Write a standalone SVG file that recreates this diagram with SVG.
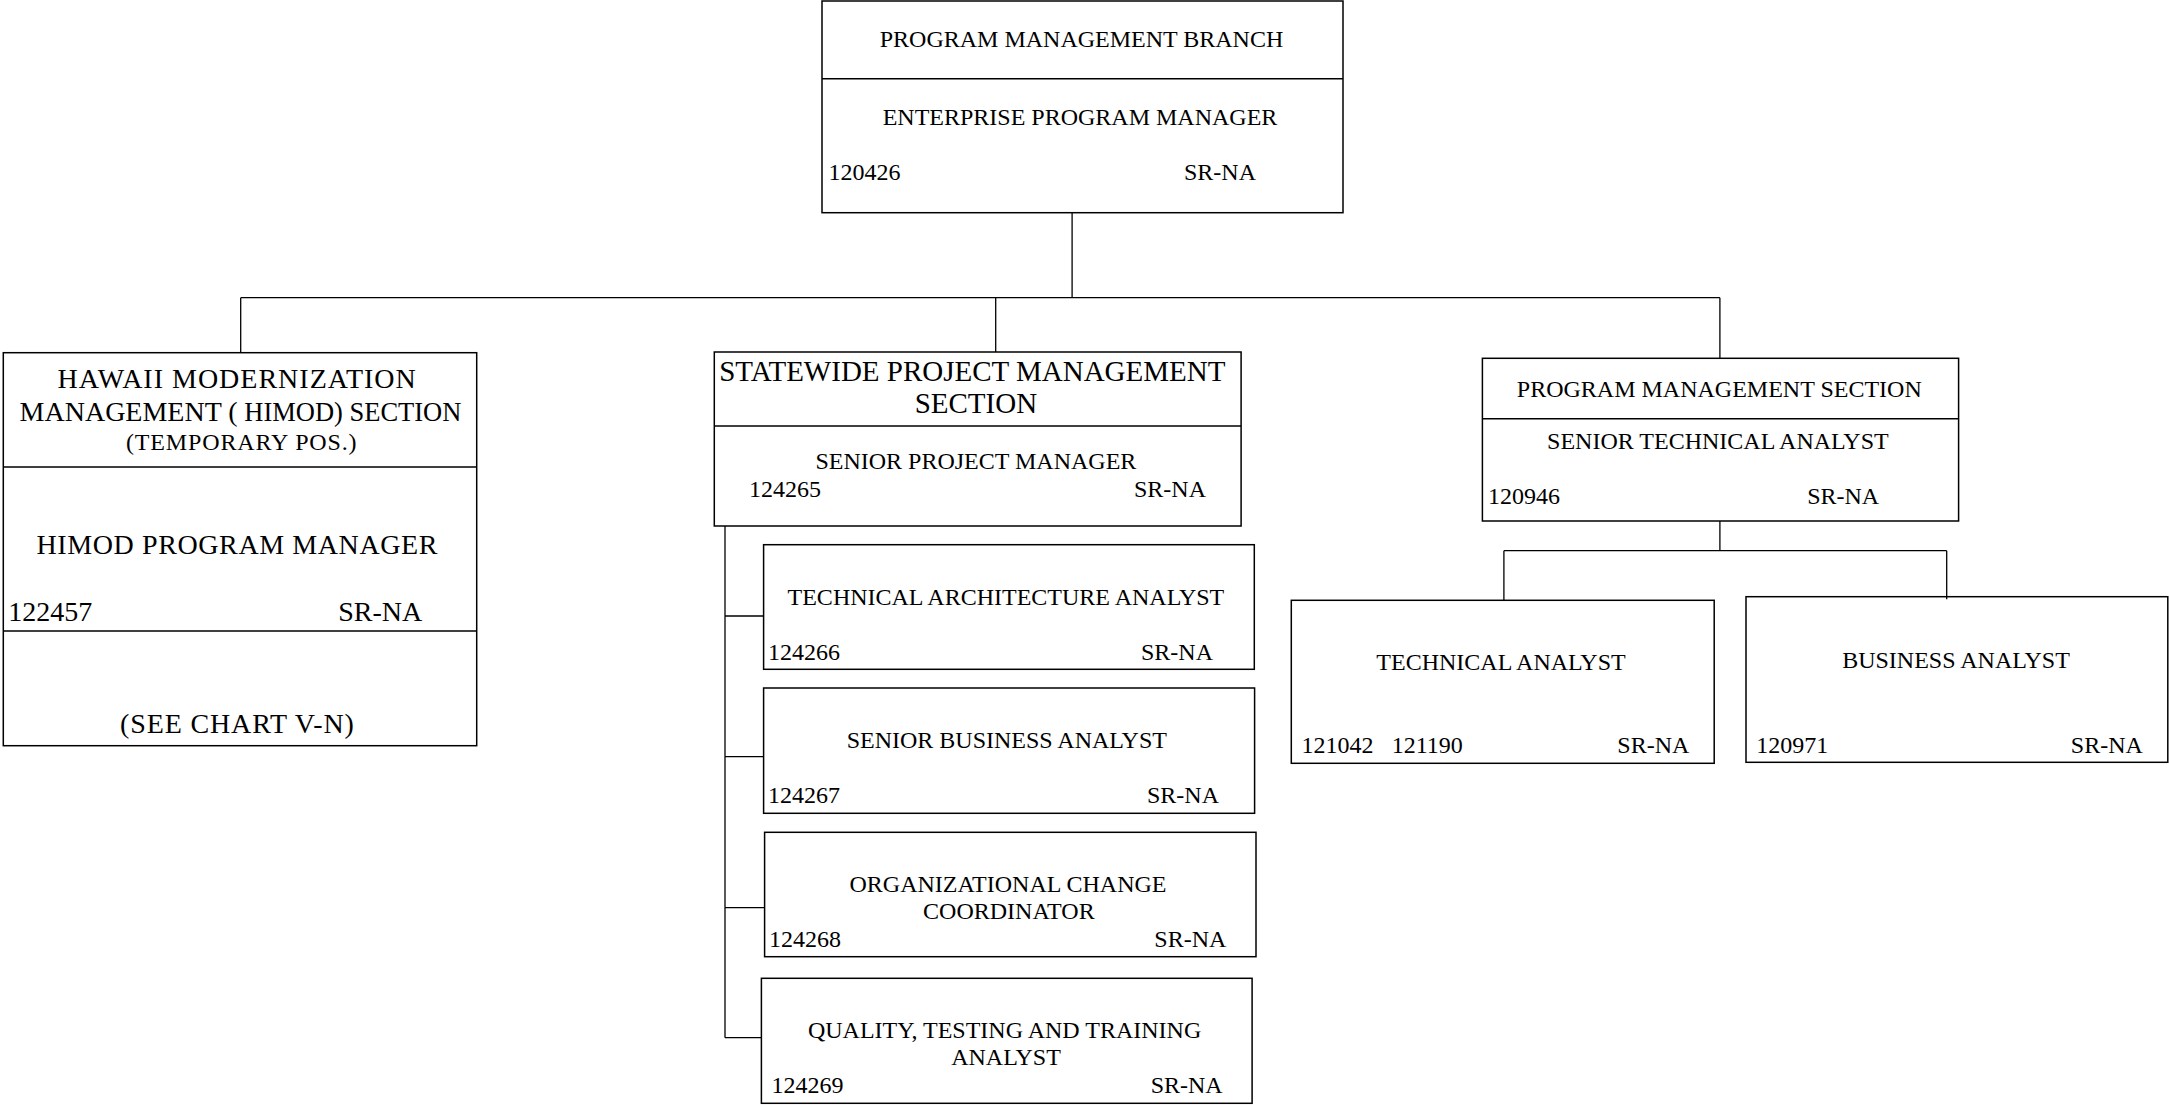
<svg xmlns="http://www.w3.org/2000/svg" width="2169" height="1105" viewBox="0 0 2169 1105">
<style>
.box{fill:#fff;stroke:#000;stroke-width:1.5}
.div{stroke:#000;stroke-width:1.5;fill:none}
.ln{stroke:#000;stroke-width:1.3;fill:none}
text{font-family:"Liberation Serif","Times New Roman",serif;font-size:24px;fill:#000}
.c{text-anchor:middle}
.b{font-size:28px}
.s{font-size:29px}
</style>
<rect width="2169" height="1105" fill="#fff"/>
<g id="connectors">
<path class="ln" d="M1072.1 212.7V297.7"/>
<path class="ln" d="M240.7 297.7H1719.9"/>
<path class="ln" d="M240.7 297.7V352.7"/>
<path class="ln" d="M995.7 297.7V352"/>
<path class="ln" d="M1719.9 297.7V358.3"/>
<path class="ln" d="M725 526V1037.7"/>
<path class="ln" d="M725 616H763.6"/>
<path class="ln" d="M725 756.7H763.6"/>
<path class="ln" d="M725 907.7H764.6"/>
<path class="ln" d="M725 1037.7H761.4"/>
<path class="ln" d="M1719.9 521V550.7"/>
<path class="ln" d="M1503.9 550.7H1946.7"/>
<path class="ln" d="M1503.9 550.7V600.3"/>
</g>
<g id="program-management-branch">
<rect class="box" x="822" y="1" width="521" height="211.7"/>
<path class="div" d="M822 78.7H1343"/>
<text class="c" x="1081.5" y="46.7">PROGRAM MANAGEMENT BRANCH</text>
<text class="c" x="1080" y="125">ENTERPRISE PROGRAM MANAGER</text>
<text x="828.6" y="180">120426</text>
<text x="1184" y="180">SR-NA</text>
</g>
<g id="himod-section">
<rect class="box" x="3.3" y="352.7" width="473.4" height="393"/>
<path class="div" d="M3.3 467H476.7M3.3 631H476.7"/>
<text class="c b" x="237.2" y="388.3" letter-spacing="1">HAWAII MODERNIZATION</text>
<text class="c" x="240.5" y="421"><tspan class="b">MANAGEMENT (</tspan><tspan font-size="26.5"> HIMOD) SECTION</tspan></text>
<text class="c" x="241.7" y="450" font-size="27" letter-spacing="0.85">(TEMPORARY POS.)</text>
<text class="c b" x="237.3" y="554.3" letter-spacing="0.6">HIMOD PROGRAM MANAGER</text>
<text class="b" x="8.3" y="621">122457</text>
<text class="b" x="338.3" y="621">SR-NA</text>
<text class="c b" x="237.4" y="733.3" letter-spacing="0.85">(SEE CHART V-N)</text>
</g>
<g id="statewide-pm-section">
<rect class="box" x="714.3" y="352" width="526.8" height="174"/>
<path class="div" d="M714.3 426H1241.1"/>
<text class="c s" x="972.3" y="381">STATEWIDE PROJECT MANAGEMENT</text>
<text class="c s" x="975.9" y="413.3">SECTION</text>
<text class="c" x="975.9" y="469.3">SENIOR PROJECT MANAGER</text>
<text x="748.9" y="496.7">124265</text>
<text x="1134" y="496.7">SR-NA</text>
</g>
<g id="technical-architecture-analyst">
<rect class="box" x="763.6" y="544.7" width="490.7" height="124.6"/>
<text class="c" x="1005.9" y="605">TECHNICAL ARCHITECTURE ANALYST</text>
<text x="767.9" y="660">124266</text>
<text x="1141" y="660">SR-NA</text>
</g>
<g id="senior-business-analyst">
<rect class="box" x="763.6" y="688" width="491" height="125.3"/>
<text class="c" x="1006.8" y="747.7">SENIOR BUSINESS ANALYST</text>
<text x="767.9" y="802.7">124267</text>
<text x="1147" y="802.7">SR-NA</text>
</g>
<g id="organizational-change-coordinator">
<rect class="box" x="764.6" y="832.3" width="491.4" height="124.4"/>
<text class="c" x="1008" y="891.7">ORGANIZATIONAL CHANGE</text>
<text class="c" x="1008.9" y="919.3">COORDINATOR</text>
<text x="768.9" y="947.3">124268</text>
<text x="1154.3" y="947.3">SR-NA</text>
</g>
<g id="quality-testing-training-analyst">
<rect class="box" x="761.4" y="978.3" width="490.7" height="125"/>
<text class="c" x="1004.6" y="1038.3">QUALITY, TESTING AND TRAINING</text>
<text class="c" x="1006" y="1065">ANALYST</text>
<text x="771.4" y="1092.7">124269</text>
<text x="1150.7" y="1092.7">SR-NA</text>
</g>
<g id="program-management-section">
<rect class="box" x="1482.4" y="358.3" width="476.2" height="162.7"/>
<path class="div" d="M1482.4 418.7H1958.6"/>
<text class="c" x="1719.3" y="396.7">PROGRAM MANAGEMENT SECTION</text>
<text class="c" x="1717.9" y="449">SENIOR TECHNICAL ANALYST</text>
<text x="1488" y="504">120946</text>
<text x="1807.2" y="504">SR-NA</text>
</g>
<g id="technical-analyst">
<rect class="box" x="1291.3" y="600.3" width="422.9" height="163"/>
<text class="c" x="1501" y="670">TECHNICAL ANALYST</text>
<text x="1301.5" y="752.7">121042</text>
<text x="1391.7" y="752.7">121190</text>
<text x="1617.3" y="752.7">SR-NA</text>
</g>
<g id="business-analyst">
<rect class="box" x="1746" y="596.7" width="421.8" height="165.6"/>
<text class="c" x="1956" y="668.3">BUSINESS ANALYST</text>
<text x="1756.2" y="752.7">120971</text>
<text x="2070.8" y="752.7">SR-NA</text>
</g>
<path class="ln" d="M1946.7 550.7V599.3"/>
</svg>
